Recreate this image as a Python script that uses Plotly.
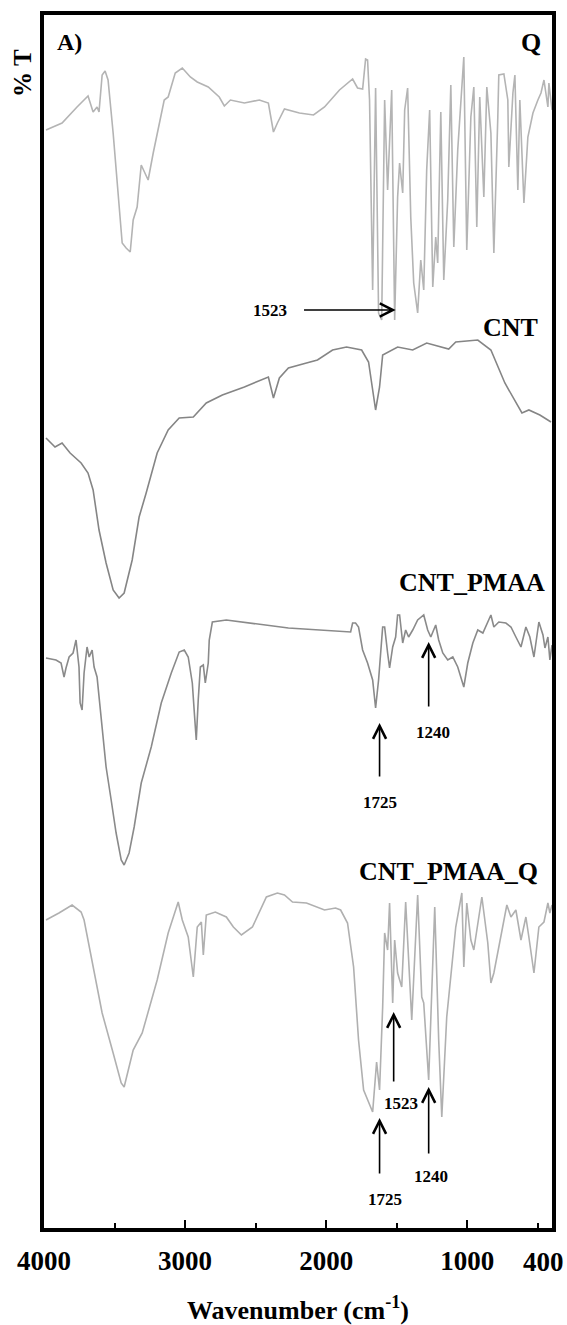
import plotly.graph_objects as go

# ---------------- data (wavenumber, offset %T in arbitrary units) ----------------
q_wn = [3986, 3872, 3766, 3688, 3652, 3624, 3610, 3588, 3567, 3546, 3510, 3468, 3446, 3418, 3389, 3368,
        3340, 3311, 3262, 3226, 3148, 3120, 3070, 3020, 2963, 2914, 2836, 2758, 2722, 2679, 2580, 2474,
        2410, 2374, 2346, 2296, 2190, 2090, 2012, 1906, 1813, 1778, 1742, 1721, 1707, 1693, 1671, 1650,
        1629, 1607, 1586, 1565, 1536, 1515, 1494, 1480, 1458, 1444, 1423, 1401, 1380, 1352, 1330, 1309,
        1288, 1267, 1245, 1224, 1210, 1188, 1167, 1139, 1117, 1096, 1068, 1025, 1004, 975, 954, 933,
        912, 883, 862, 833, 812, 784, 777, 741, 713, 706, 677, 663, 642, 628, 599, 571, 535, 500, 478,
        457, 429, 422, 400]
q_t = [109.8, 110.5, 112.1, 113.2, 111.6, 112.1, 111.6, 115.3, 115.7, 114.8, 109.5, 102.8, 98.5, 98.0, 97.6, 100.8,
       102.1, 106.3, 104.8, 107.5, 112.8, 113.1, 115.5, 116.0, 115.1, 114.6, 114.1, 113.1, 112.2, 112.8, 112.5, 112.8,
       112.5, 109.6, 110.5, 111.9, 111.5, 111.3, 112.1, 113.8, 114.9, 114.0, 113.9, 116.9, 116.8, 112.8, 93.8, 114.0,
       91.5, 90.8, 112.8, 103.8, 113.8, 90.8, 103.1, 106.5, 103.5, 111.8, 114.0, 101.1, 94.5, 91.5, 96.8, 93.8,
       105.8, 111.8, 94.1, 99.1, 96.5, 111.6, 94.8, 102.8, 114.3, 98.1, 107.8, 117.1, 97.8, 111.1, 114.1, 100.1,
       113.1, 103.1, 114.1, 109.5, 97.5, 111.1, 115.3, 115.4, 112.8, 106.1, 113.5, 115.3, 103.8, 112.8, 102.5, 109.1, 111.5, 112.8, 113.5,
       114.8, 112.1, 114.5, 111.8]

cnt_wn = [3986, 3922, 3872, 3815, 3737, 3688, 3652, 3610, 3560, 3510, 3468, 3432, 3375, 3326, 3276, 3198,
          3120, 3042, 2942, 2850, 2736, 2580, 2410, 2374, 2332, 2268, 2140, 2062, 1955, 1856, 1749, 1700,
          1650, 1622, 1600, 1494, 1387, 1288, 1132, 1082, 926, 833, 734, 613, 564, 486, 407]
cnt_t = [79.0, 78.1, 78.5, 77.5, 76.5, 75.5, 73.8, 69.8, 66.5, 63.8, 63.0, 63.5, 66.8, 71.1, 73.5, 77.5,
         79.8, 81.0, 81.1, 82.5, 83.3, 84.1, 85.1, 83.0, 85.0, 86.0, 86.5, 86.8, 87.8, 88.1, 87.8, 86.6,
         81.8, 84.1, 87.3, 88.1, 87.8, 88.5, 87.9, 88.6, 88.8, 87.8, 84.5, 81.5, 81.8, 81.3, 80.6]

pmaa_wn = [3986, 3915, 3879, 3858, 3844, 3822, 3794, 3773, 3752, 3744, 3730, 3716, 3695, 3680, 3659, 3645,
           3624, 3595, 3560, 3524, 3489, 3453, 3432, 3397, 3361, 3311, 3240, 3169, 3098, 3042, 3006, 2978,
           2949, 2935, 2921, 2907, 2892, 2871, 2857, 2836, 2829, 2807, 2708, 2268, 1856, 1827, 1813, 1792,
           1771, 1742, 1707, 1671, 1650, 1629, 1600, 1586, 1565, 1551, 1529, 1508, 1494, 1480, 1458, 1437,
           1416, 1387, 1352, 1309, 1281, 1259, 1224, 1203, 1174, 1139, 1103, 1068, 1025, 997, 961, 926,
           890, 833, 812, 777, 727, 691, 656, 620, 585, 557, 528, 493, 464, 450, 429, 415, 400]
pmaa_t = [57.0, 56.8, 56.5, 55.1, 56.0, 57.1, 57.5, 58.8, 56.1, 52.5, 51.8, 55.5, 58.1, 57.1, 57.8, 56.1,
          55.1, 51.1, 46.1, 42.8, 39.5, 36.8, 36.3, 37.5, 40.1, 44.5, 48.1, 52.5, 55.5, 57.6, 57.8, 57.1,
          54.5, 51.6, 48.8, 52.8, 56.1, 56.3, 54.5, 56.5, 58.8, 60.6, 60.8, 60.0, 59.6, 59.6, 60.5, 60.5,
          60.1, 57.8, 56.5, 54.8, 52.0, 54.8, 60.1, 60.1, 57.5, 56.0, 58.1, 59.1, 61.3, 61.3, 58.5, 59.8,
          59.1, 59.8, 60.8, 61.3, 59.8, 59.1, 60.3, 58.8, 57.5, 56.8, 57.1, 56.1, 54.1, 56.5, 58.5, 59.8,
          59.5, 61.3, 60.1, 60.6, 60.5, 60.1, 59.1, 58.1, 60.1, 59.1, 57.1, 60.6, 59.3, 58.0, 59.1, 56.8, 58.3]

pmaaq_wn = [3986, 3894, 3801, 3737, 3716, 3659, 3588, 3510, 3453, 3432, 3368, 3304, 3198, 3120, 3049, 3020,
            2978, 2942, 2914, 2885, 2871, 2850, 2786, 2708, 2658, 2601, 2523, 2424, 2346, 2296, 2239, 2140,
            2012, 1934, 1898, 1849, 1806, 1771, 1735, 1671, 1643, 1622, 1600, 1586, 1565, 1551, 1529, 1515,
            1494, 1465, 1437, 1394, 1352, 1323, 1309, 1274, 1231, 1203, 1181, 1146, 1117, 1082, 1039, 1025,
            1004, 975, 954, 897, 855, 833, 812, 762, 720, 691, 656, 620, 585, 564, 528, 493, 457, 429, 415, 400]
pmaaq_t = [30.8, 31.5, 32.3, 31.6, 30.8, 26.8, 21.5, 17.5, 14.5, 14.1, 17.8, 19.5, 24.8, 29.5, 32.6, 30.8,
           29.1, 25.1, 30.1, 30.6, 27.3, 31.3, 31.6, 31.1, 30.1, 29.3, 30.1, 33.1, 33.5, 33.3, 32.6, 32.5,
           31.8, 32.0, 31.8, 30.5, 26.1, 18.8, 13.8, 11.6, 16.6, 13.8, 22.1, 29.5, 27.8, 32.5, 22.5, 28.8,
           25.5, 24.1, 32.6, 20.8, 33.3, 23.1, 22.5, 14.8, 32.1, 18.8, 11.1, 21.1, 25.1, 30.1, 33.5, 26.1,
           32.5, 28.8, 27.8, 33.1, 28.5, 24.5, 25.5, 29.3, 32.3, 31.1, 31.8, 28.8, 31.1, 29.1, 25.5, 30.1, 30.6, 32.5, 31.5, 32.3]

spectrum_names = ["Q", "CNT", "CNT_PMAA", "CNT_PMAA_Q"]
spectrum_colors = ["#b4b4b4", "#858585", "#8a8a8a", "#b0b0b0"]

# peak annotations: arrow head / tail and label positions (wavenumber, offset %T)
peak_labels = ["1523", "1725", "1240", "1523", "1725", "1240"]
peak_head_wn = [1508, 1622, 1274, 1522, 1622, 1274]
peak_head_t = [91.8, 50.5, 58.6, 21.6, 11.0, 14.1]
peak_tail_wn = [2168, 1622, 1274, 1522, 1622, 1274]
peak_tail_t = [91.8, 45.0, 52.0, 14.5, 5.3, 7.3]
peak_text_wn = [2395, 1622, 1245, 1472, 1586, 1259]
peak_text_t = [91.8, 42.6, 49.6, 12.5, 2.9, 5.2]

x_tickvals = [4000, 3000, 2000, 1000, 400]
x_ticktext = ["4000", "3000", "2000", "1000", ""]   # "400" drawn separately so it stays inside the page
x_last_label = "400"
x_minor_ticks = [3500, 2500, 1500, 500]

FONT = "Liberation Serif"

fig = go.Figure()
for name, wn, t, col in zip(spectrum_names,
                            [q_wn, cnt_wn, pmaa_wn, pmaaq_wn],
                            [q_t, cnt_t, pmaa_t, pmaaq_t],
                            spectrum_colors):
    fig.add_trace(go.Scatter(x=wn, y=t, mode="lines", name=name,
                             line=dict(color=col, width=1.6), showlegend=False))

# arrows
for hx, hy, tx, ty in zip(peak_head_wn, peak_head_t, peak_tail_wn, peak_tail_t):
    fig.add_annotation(x=hx, y=hy, ax=tx, ay=ty, xref="x", yref="y", axref="x", ayref="y",
                       text="", showarrow=True, arrowhead=5, arrowsize=1.6, arrowwidth=1.6,
                       arrowcolor="black")
# arrow labels
for lab, x, y in zip(peak_labels, peak_text_wn, peak_text_t):
    fig.add_annotation(x=x, y=y, xref="x", yref="y", text=lab, showarrow=False,
                       font=dict(family=FONT, size=17, color="black", weight="bold"))

# spectrum labels (paper coords)
label_pos = [(0.982, 0.9775, "right", "Q"), (0.976, 0.742, "right", "CNT"),
             (0.990, 0.532, "right", "CNT_PMAA"), (0.976, 0.2935, "right", "CNT_PMAA_Q")]
for x, y, anc, txt in label_pos:
    fig.add_annotation(x=x, y=y, xref="paper", yref="paper", xanchor=anc, yanchor="middle",
                       text=txt, showarrow=False,
                       font=dict(family=FONT, size=26, color="black", weight="bold"))

fig.add_annotation(x=0.022, y=0.9775, xref="paper", yref="paper", xanchor="left", yanchor="middle",
                   text="A)", showarrow=False,
                   font=dict(family=FONT, size=24, color="black", weight="bold"))
fig.add_annotation(x=-0.042, y=0.952, xref="paper", yref="paper", xanchor="center", yanchor="middle",
                   text="% T", textangle=-90, showarrow=False,
                   font=dict(family=FONT, size=25, color="black", weight="bold"))
# last x tick label, nudged left like in the reference
fig.add_annotation(x=x_tickvals[-1], y=-0.028, xref="x", yref="paper", xanchor="center",
                   yanchor="middle", xshift=-9, text=x_last_label, showarrow=False,
                   font=dict(family=FONT, size=27, color="black", weight="bold"))

fig.update_layout(
    width=567, height=1325,
    margin=dict(l=44, r=15, t=15, b=97),
    paper_bgcolor="white", plot_bgcolor="white",
    font=dict(family=FONT, color="black"),
    xaxis=dict(range=[4000, 400], showgrid=False, zeroline=False, automargin=False,
               showline=True, mirror=True, linewidth=4, linecolor="black",
               tickmode="array", tickvals=x_tickvals, ticktext=x_ticktext,
               ticks="inside", ticklen=8, tickwidth=2, tickcolor="black",
               minor=dict(tickmode="array", tickvals=x_minor_ticks, ticks="inside",
                          ticklen=5, tickwidth=2, tickcolor="black", showgrid=False),
               tickfont=dict(family=FONT, size=27, color="black", weight="bold"),
               ticklabelstandoff=6,
               title=dict(text="Wavenumber (cm<sup>-1</sup>)", standoff=27,
                          font=dict(family=FONT, size=26, color="black", weight="bold"))),
    yaxis=dict(range=[0, 121.3], showgrid=False, zeroline=False, automargin=False,
               showline=True, mirror=True, linewidth=4, linecolor="black",
               showticklabels=False, ticks=""),
)

fig.write_html("out.html", config={"displayModeBar": False},
               post_script="document.body.style.margin='0';document.body.style.overflow='hidden';")
